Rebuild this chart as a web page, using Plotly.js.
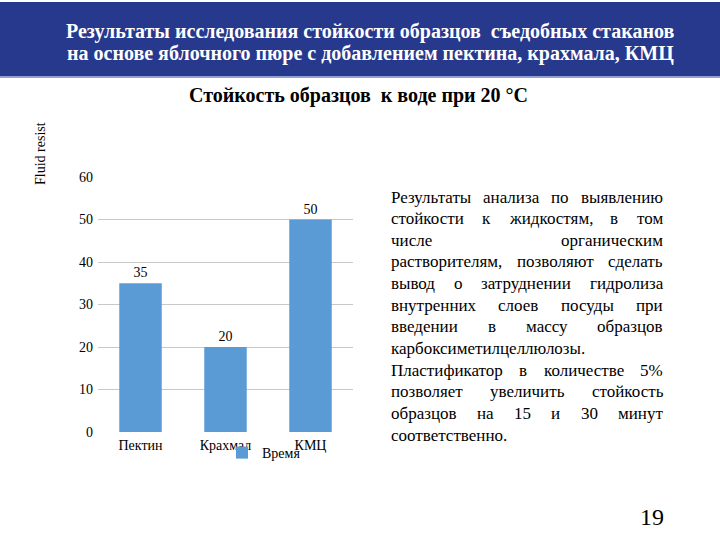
<!DOCTYPE html>
<html><head><meta charset="utf-8">
<script src="https://cdn.plot.ly/plotly-3.0.1.min.js"></script>
<style>body{margin:0;background:#fff}#chart{width:720px;height:540px}</style>
</head><body><div id="chart"></div>
<script>
const categories = ['Пектин', 'Крахмал', 'КМЦ'];
const values = [35, 20, 50];
const seriesName = 'Время';
const yTickValues = [0, 10, 20, 30, 40, 50, 60];
const headerLines = [
  'Результаты исследования стойкости образцов  съедобных стаканов',
  'на основе яблочного пюре с добавлением пектина, крахмала, КМЦ'
];
const chartTitle = 'Стойкость образцов  к воде при 20 °C';
const yAxisTitle = 'Fluid resist';
const paragraphLines = [
  'Результаты анализа по выявлению',
  'стойкости к жидкостям, в том',
  'числе органическим',
  'растворителям, позволяют сделать',
  'вывод о затруднении гидролиза',
  'внутренних слоев посуды при',
  'введении в массу образцов',
  'карбоксиметилцеллюлозы.',
  'Пластификатор в количестве 5%',
  'позволяет увеличить стойкость',
  'образцов на 15 и 30 минут',
  'соответственно.'
];
const paragraphJustified = [true, true, true, true, true, true, true, false, true, true, true, false];
const slideNumber = '19';

// plot area in pixels
const L = 98, R = 353, T = 177, B = 432;
const px = x => (x - L) / (R - L);
const py = y => (B - y) / (B - T);
const SERIF = 'Liberation Serif';

const annotations = [];
const shapes = [];

// header band
shapes.push({type: 'rect', xref: 'paper', yref: 'paper', x0: px(0), x1: px(720), y0: py(2), y1: py(76),
  fillcolor: '#27398c', line: {width: 0}, layer: 'below'});
shapes.push({type: 'rect', xref: 'paper', yref: 'paper', x0: px(0), x1: px(720), y0: py(76), y1: py(78),
  fillcolor: '#8fa0d6', line: {width: 0}, layer: 'below'});
headerLines.forEach((t, i) => {
  annotations.push({text: '<b>' + t + '</b>', xref: 'paper', yref: 'paper', x: px(370), y: py(31 + i * 23),
    xanchor: 'center', yanchor: 'middle', showarrow: false,
    font: {family: SERIF, size: 20, color: '#ffffff'}});
});

// chart title
annotations.push({text: '<b>' + chartTitle + '</b>', xref: 'paper', yref: 'paper', x: px(358), y: py(95),
  xanchor: 'center', yanchor: 'middle', showarrow: false, font: {family: SERIF, size: 20, color: '#000'}});

// y-axis title
annotations.push({text: yAxisTitle, xref: 'paper', yref: 'paper', x: px(40), y: py(154), textangle: -90,
  xanchor: 'center', yanchor: 'middle', showarrow: false, font: {family: SERIF, size: 14, color: '#000'}});

// paragraph, justified
const canvas = document.createElement('canvas');
const ctx = canvas.getContext('2d');
const pSize = 17;
ctx.font = pSize + "px 'Liberation Serif'";
const textLeft = 390, textRight = 662, firstY = 197, lineStep = 21.65;
paragraphLines.forEach((line, i) => {
  const y = firstY + i * lineStep;
  const words = line.split(' ');
  if (!paragraphJustified[i] || words.length < 2) {
    annotations.push({text: line, xref: 'paper', yref: 'paper', x: px(textLeft), y: py(y), xanchor: 'left',
      yanchor: 'middle', showarrow: false, borderpad: 0, font: {family: SERIF, size: pSize, color: '#000'}});
    return;
  }
  const widths = words.map(w => ctx.measureText(w).width);
  const sum = widths.reduce((a, b) => a + b, 0);
  const gap = (textRight - textLeft - sum) / (words.length - 1);
  let x = textLeft;
  words.forEach((w, k) => {
    annotations.push({text: w, xref: 'paper', yref: 'paper', x: px(x), y: py(y), xanchor: 'left',
      yanchor: 'middle', showarrow: false, borderpad: 0, font: {family: SERIF, size: pSize, color: '#000'}});
    x += widths[k] + gap;
  });
});

// slide number
annotations.push({text: slideNumber, xref: 'paper', yref: 'paper', x: px(652), y: py(517),
  xanchor: 'center', yanchor: 'middle', showarrow: false, font: {family: SERIF, size: 24, color: '#000'}});

const trace = {
  type: 'bar', x: categories, y: values, name: seriesName,
  marker: {color: '#5b9bd5'},
  text: values.map(String), textposition: 'outside', cliponaxis: false,
  textfont: {family: SERIF, size: 14, color: '#000'},
  hoverinfo: 'none'
};

const layout = {
  width: 720, height: 540,
  margin: {l: L, r: 720 - R, t: T, b: 540 - B, pad: 0},
  paper_bgcolor: '#ffffff', plot_bgcolor: '#ffffff',
  bargap: 0.5,
  font: {family: SERIF, size: 14, color: '#000'},
  showlegend: true,
  legend: {x: px(222), y: py(437), xanchor: 'left', yanchor: 'top', orientation: 'h',
    bgcolor: 'rgba(0,0,0,0)', font: {family: SERIF, size: 14, color: '#000'}},
  xaxis: {showgrid: false, showline: false, zeroline: false, ticks: '', fixedrange: true,
    ticklabelstandoff: 3, tickfont: {family: SERIF, size: 14, color: '#000'}},
  yaxis: {range: [0, 60], tickvals: yTickValues, showgrid: true, gridcolor: '#c8c8c8', gridwidth: 1,
    showline: false, zeroline: false, ticks: '', ticklabelstandoff: 4,
    tickfont: {family: SERIF, size: 14, color: '#000'}},
  shapes: shapes,
  annotations: annotations
};

Plotly.newPlot('chart', [trace], layout, {staticPlot: true, displayModeBar: false});
</script>
</body></html>
